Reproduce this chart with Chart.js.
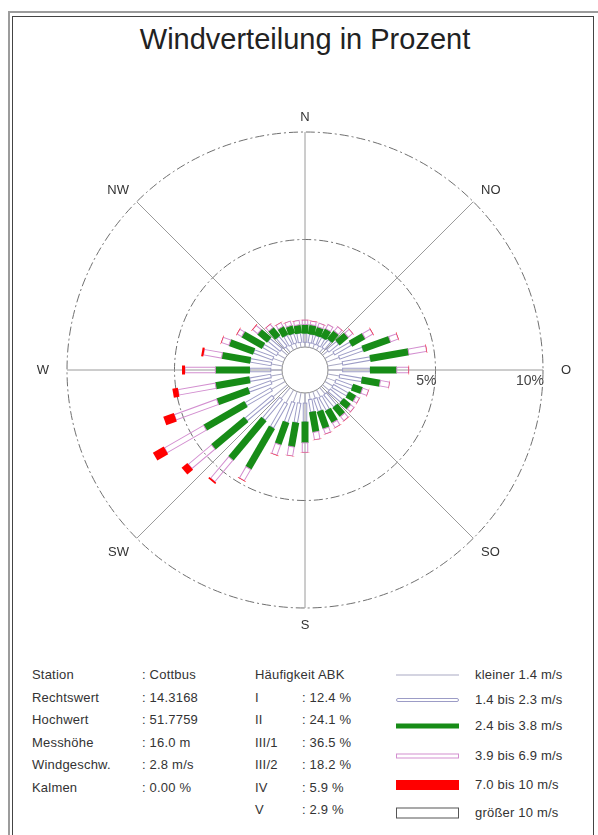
<!DOCTYPE html>
<html lang="de">
<head>
<meta charset="utf-8">
<title>Windverteilung in Prozent</title>
<script src="https://cdn.jsdelivr.net/npm/chart.js@4/dist/chart.umd.min.js"></script>
<style>
  html, body { margin: 0; padding: 0; background: #fff; }
  body {
    width: 598px; height: 835px; position: relative; overflow: hidden;
    font-family: "Liberation Sans", Arial, Helvetica, sans-serif; color: #333;
  }
  .frame-outer {
    position: absolute; left: 8px; top: 11px; width: 592px; height: 840px;
    border: 2px solid #9c9c9c; box-sizing: border-box;
  }
  .frame-inner {
    position: absolute; left: 12px; top: 16px; width: 582px; height: 830px;
    border: 1px solid #444; box-sizing: border-box;
  }
  h1 {
    position: absolute; left: 0; top: 23px; width: 610px; margin: 0;
    text-align: center; font-weight: normal; font-size: 29px; line-height: 32px; color: #222;
  }
  #rose { position: absolute; left: 0; top: 0; }
  .t {
    position: absolute; font-size: 13px; line-height: 14px; white-space: nowrap;
    letter-spacing: 0.2px; transform: translateY(-50%); color: #333;
  }
  .sw { position: absolute; left: 396px; width: 63px; box-sizing: border-box; transform: translateY(-50%); }
</style>
</head>
<body>
<div class="frame-outer"></div>
<div class="frame-inner"></div>
<h1>Windverteilung in Prozent</h1>
<canvas id="rose" width="598" height="650"></canvas>
<div id="info"></div>

<script>
// Compass points used for the axis lines and their labels
const COMPASS = ['N', 'NO', 'O', 'SO', 'S', 'SW', 'W', 'NW'];
// Sector centres in degrees (clockwise from north)
const DIRECTIONS = [0, 10, 20, 30, 40, 50, 60, 70, 80, 90, 100, 110, 120, 130, 140, 150, 160, 170,
                    180, 190, 200, 210, 220, 230, 240, 250, 260, 270, 280, 290, 300, 310, 320, 330, 340, 350];
// Reference rings (percent)
const RINGS = [5, 10];

// Frequency (percent) per direction and wind speed class
const SPEED_LT_1_4 = [0.22, 0.21, 0.21, 0.22, 0.25, 0.32, 0.48, 0.62, 0.70, 0.68, 0.56, 0.44, 0.42, 0.40, 0.38, 0.37, 0.33, 0.32,
                      0.47, 0.49, 0.52, 0.70, 0.66, 0.87, 0.73, 0.60, 0.54, 0.52, 0.52, 0.51, 0.41, 0.38, 0.32, 0.26, 0.25, 0.23];
const SPEED_1_4_2_3 = [0.40, 0.39, 0.39, 0.40, 0.45, 0.58, 0.89, 1.16, 1.30, 1.27, 1.04, 0.82, 0.78, 0.75, 0.72, 0.68, 0.62, 0.58,
                       0.86, 0.91, 0.98, 1.30, 1.24, 1.63, 1.37, 1.10, 0.99, 0.97, 0.98, 0.94, 0.75, 0.72, 0.58, 0.49, 0.45, 0.42];
const SPEED_2_4_3_8 = [0.43, 0.45, 0.42, 0.46, 0.50, 0.55, 0.72, 1.34, 1.82, 1.25, 0.87, 0.48, 0.40, 0.45, 0.55, 0.65, 0.85, 0.95,
                       0.99, 1.15, 1.10, 2.20, 2.40, 2.00, 2.20, 1.56, 1.62, 1.61, 1.35, 1.20, 1.10, 0.60, 0.50, 0.45, 0.40, 0.40];
const SPEED_3_9_6_9 = [0.20, 0.17, 0.18, 0.22, 0.25, 0.27, 0.41, 0.38, 0.83, 0.55, 0.43, 0.29, 0.18, 0.20, 0.25, 0.25, 0.25, 0.35,
                       0.44, 0.42, 0.50, 0.60, 1.30, 1.40, 2.10, 2.09, 1.75, 1.41, 0.85, 0.37, 0.24, 0.30, 0.20, 0.20, 0.20, 0.20];
const SPEED_7_10 =    [0.01, 0.01, 0.01, 0.01, 0.01, 0.01, 0.02, 0.02, 0.02, 0.02, 0.01, 0.01, 0.01, 0.01, 0.01, 0.01, 0.01, 0.01,
                       0.01, 0.01, 0.02, 0.02, 0.08, 0.35, 0.58, 0.52, 0.26, 0.14, 0.10, 0.02, 0.02, 0.02, 0.01, 0.01, 0.01, 0.01];
const SPEED_GT_10 =   [0, 0, 0, 0, 0, 0, 0, 0, 0, 0, 0, 0, 0, 0, 0, 0, 0, 0,
                       0, 0, 0, 0, 0, 0, 0, 0, 0, 0, 0, 0, 0, 0, 0, 0, 0, 0];

// Text of the station block
const STATION_KEYS = ['Station', 'Rechtswert', 'Hochwert', 'Messhöhe', 'Windgeschw.', 'Kalmen'];
const STATION_VALUES = [': Cottbus', ': 14.3168', ': 51.7759', ': 16.0 m', ': 2.8 m/s', ': 0.00 %'];
const STABILITY_CLASSES = ['I', 'II', 'III/1', 'III/2', 'IV', 'V'];
const STABILITY_SHARES = [12.4, 24.1, 36.5, 18.2, 5.9, 2.9];
const SPEED_LABELS = ['kleiner 1.4 m/s', '1.4 bis 2.3 m/s', '2.4 bis 3.8 m/s', '3.9 bis 6.9 m/s', '7.0 bis 10 m/s', 'größer 10 m/s'];

// Drawing style of each speed class: kind, width across the ray, colour
const SPEED_STYLES = [
  { kind: 'line',    width: 1,   color: '#a9a9c4' },
  { kind: 'outline', width: 3.5, color: '#9c9cc6' },
  { kind: 'fill',    width: 7,   color: '#178c17' },
  { kind: 'outline', width: 5.5, color: '#d38fd0' },
  { kind: 'fill',    width: 9,   color: '#ff0000' },
  { kind: 'outline', width: 10,  color: '#333333' }
];
const SPEED_SERIES = [SPEED_LT_1_4, SPEED_1_4_2_3, SPEED_2_4_3_8, SPEED_3_9_6_9, SPEED_7_10, SPEED_GT_10];

// Empty centre of the rose, expressed in percent below zero
const CENTRE_GAP = 1.07;

const roseDrawer = {
  id: 'roseDrawer',
  afterDatasetsDraw(chart) {
    const sc = chart.scales.r;
    const ctx = chart.ctx;
    const cx = sc.xCenter, cy = sc.yCenter;
    const r0 = sc.getDistanceFromCenterForValue(0);

    // centre hole
    ctx.save();
    ctx.beginPath();
    ctx.arc(cx, cy, r0, 0, Math.PI * 2);
    ctx.fillStyle = '#fff';
    ctx.fill();
    ctx.lineWidth = 1;
    ctx.strokeStyle = '#8a8a8a';
    ctx.stroke();
    ctx.restore();

    // stacked rays
    const step = 360 / chart.data.labels.length;
    DIRECTIONS.forEach((deg, i) => {
      const ang = sc.getIndexAngle(deg / step) - Math.PI / 2;
      let cum = 0;
      SPEED_SERIES.forEach((series, k) => {
        const v = series[i];
        const a = sc.getDistanceFromCenterForValue(cum);
        cum += v;
        const b = sc.getDistanceFromCenterForValue(cum);
        if (!(v > 0)) return;
        const st = SPEED_STYLES[k];
        ctx.save();
        ctx.translate(cx, cy);
        ctx.rotate(ang);
        if (st.kind === 'line') {
          ctx.beginPath();
          ctx.moveTo(a, 0);
          ctx.lineTo(b, 0);
          ctx.lineWidth = st.width;
          ctx.strokeStyle = st.color;
          ctx.stroke();
        } else if (st.kind === 'fill') {
          ctx.fillStyle = st.color;
          ctx.fillRect(a, -st.width / 2, b - a, st.width);
        } else {
          ctx.lineWidth = 1;
          ctx.strokeStyle = st.color;
          ctx.strokeRect(a, -st.width / 2, b - a, st.width);
        }
        ctx.restore();
      });
    });

    // compass labels, anchored on the side facing the rose
    ctx.save();
    ctx.font = '13px "Liberation Sans", Arial, sans-serif';
    ctx.fillStyle = '#333';
    chart.data.labels.forEach((lab, i) => {
      const deg = Math.round(i * step) % 360;
      const side = deg === 90 || deg === 270;
      const p = sc.getPointPosition(i, sc.drawingArea + (side ? 18 : 11));
      ctx.textAlign = (deg === 0 || deg === 180) ? 'center' : (deg < 180 ? 'left' : 'right');
      ctx.textBaseline = side ? 'middle' : ((deg > 270 || deg < 90) ? 'alphabetic' : 'top');
      ctx.fillText(lab, p.x, p.y);
    });

    // ring values along the east axis
    ctx.font = '14px "Liberation Sans", Arial, sans-serif';
    ctx.fillStyle = '#444';
    ctx.textAlign = 'right';
    ctx.textBaseline = 'top';
    RINGS.forEach(v => {
      ctx.fillText(v + '%', cx + sc.getDistanceFromCenterForValue(v) + 1, cy + 4);
    });
    ctx.restore();
  }
};

new Chart(document.getElementById('rose'), {
  type: 'radar',
  data: { labels: COMPASS, datasets: [] },
  options: {
    responsive: false,
    animation: false,
    layout: { padding: { left: 67, top: 132, right: 54, bottom: 41 } },
    plugins: { legend: { display: false }, tooltip: { enabled: false } },
    scales: {
      r: {
        min: -CENTRE_GAP,
        max: 10,
        afterBuildTicks: s => { s.ticks = RINGS.map(v => ({ value: v })); },
        ticks: { display: false },
        pointLabels: { display: false },
        grid: { circular: true, color: '#6f6f6f', lineWidth: 1 },
        border: { dash: [9, 3, 2, 3] },
        angleLines: { color: '#9a9a9a', lineWidth: 1 }
      }
    }
  },
  plugins: [roseDrawer]
});

// Station block, stability classes and speed legend
const info = document.getElementById('info');
const ROW_Y = [675, 697.5, 720, 742.5, 765, 787.5, 810];
function addText(txt, x, y) {
  const d = document.createElement('div');
  d.className = 't';
  d.style.left = x + 'px';
  d.style.top = y + 'px';
  d.textContent = txt;
  info.appendChild(d);
}
STATION_KEYS.forEach((k, i) => {
  addText(k, 32, ROW_Y[i]);
  addText(STATION_VALUES[i], 142, ROW_Y[i]);
});
addText('Häufigkeit ABK', 255, ROW_Y[0]);
STABILITY_CLASSES.forEach((c, i) => {
  addText(c, 255, ROW_Y[i + 1]);
  addText(': ' + STABILITY_SHARES[i].toFixed(1) + ' %', 302, ROW_Y[i + 1]);
});
const LEGEND_Y = [675, 700, 726, 756, 785, 813];
const SWATCH_CSS = [
  'height:1px;background:#a9a9c4;',
  'height:4px;border:1px solid #9c9cc6;border-radius:2px;',
  'height:5px;background:#178c17;',
  'height:5px;border:1px solid #d38fd0;',
  'height:10px;background:#ff0000;',
  'height:11px;border:1px solid #555;'
];
SPEED_LABELS.forEach((lab, i) => {
  const s = document.createElement('div');
  s.className = 'sw';
  s.style.cssText += SWATCH_CSS[i] + 'top:' + LEGEND_Y[i] + 'px;';
  info.appendChild(s);
  addText(lab, 475, LEGEND_Y[i]);
});
</script>
</body>
</html>
